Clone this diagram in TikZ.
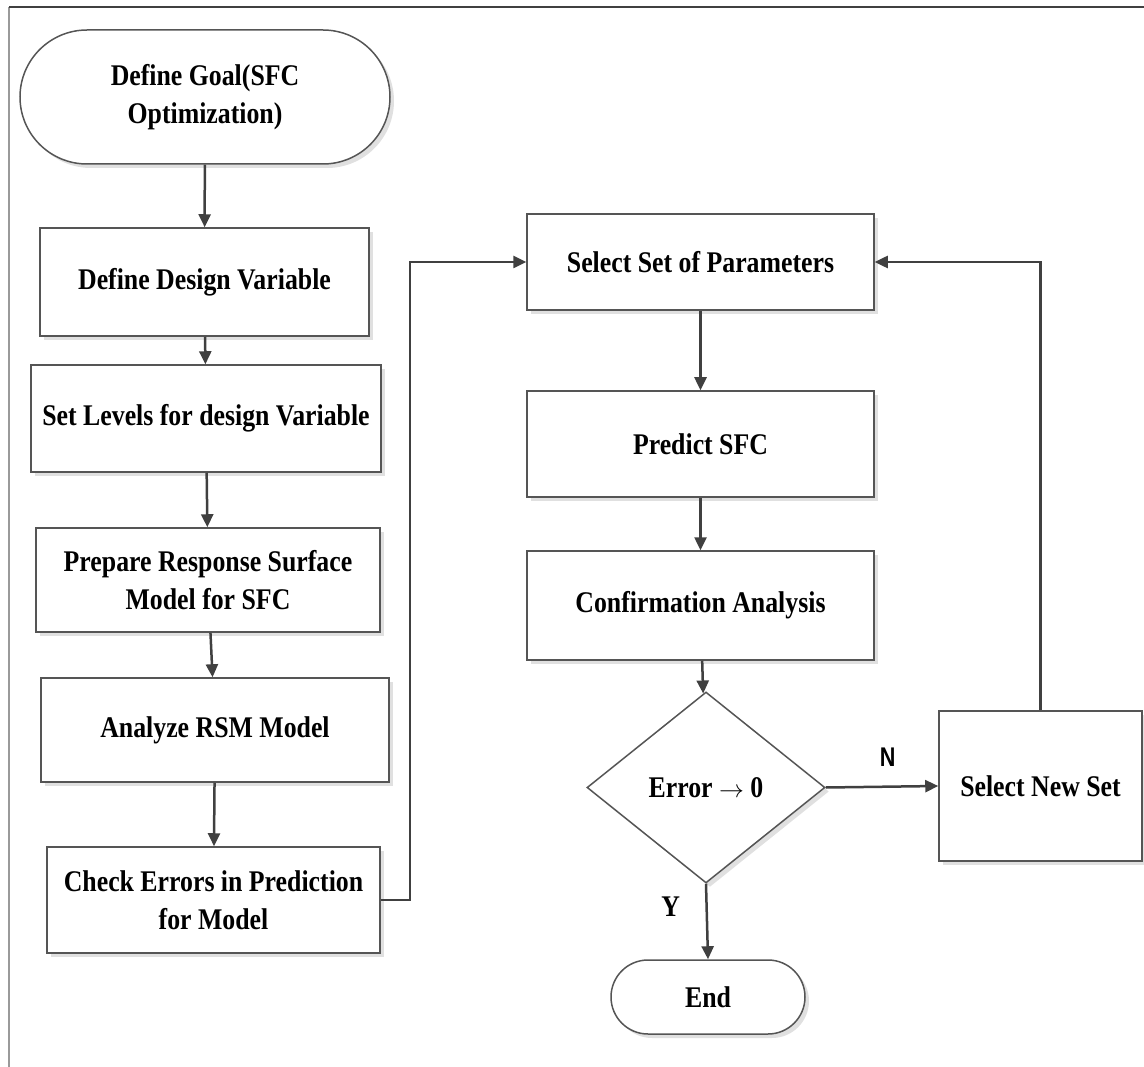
\documentclass[tikz,border=0pt]{standalone}
\usepackage{fontspec}
\setmainfont{Liberation Serif}[FakeStretch=0.86]
\newfontfamily\labelfont{Liberation Sans}[FakeStretch=0.8]
\usetikzlibrary{arrows.meta,shadows,shapes.geometric}
\definecolor{linegray}{HTML}{404040}
\definecolor{boxgray}{HTML}{555555}
\definecolor{framegray}{HTML}{9A9A9A}
\newcommand\boxfont{\bfseries\fontsize{30}{38}\selectfont}
\newcommand\toarrow{{\fontsize{24}{24}\selectfont$\rightarrow$}}

\begin{document}
\begin{tikzpicture}[x=1pt,y=-1pt,->,>={Triangle[length=13pt,width=12pt]},
  every edge/.style={draw=linegray,line width=2.5pt},
  flow/.style={draw=linegray,line width=2.5pt},
  box/.style={rectangle,draw=boxgray,line width=1.5pt,fill=white,inner sep=0pt,
    align=center,font=\boxfont,
    drop shadow={shadow xshift=4pt,shadow yshift=-4pt,fill=black!12,opacity=1}},
  term/.style={box,rounded corners=#1},
  dec/.style={box,diamond,aspect=1.25,minimum width=238pt,minimum height=191pt}]

\useasboundingbox (0,0) rectangle (1144,1067);
\draw[-,draw=framegray,line width=2pt] (9,1067) -- (9,7);
\draw[-,draw=linegray,line width=2pt] (9,7) -- (1144,7);

% left column
\node[term=67pt,minimum width=370pt,minimum height=134pt] (1) at (205,97) {Define Goal(SFC\\Optimization)};
\node[box,minimum width=329pt,minimum height=108pt] (2) at (204.5,282) {Define Design Variable};
\node[box,minimum width=350pt,minimum height=107pt] (3) at (206,418.5) {Set Levels for design Variable};
\node[box,minimum width=344pt,minimum height=104pt] (4) at (208,580) {Prepare Response Surface\\Model for SFC};
\node[box,minimum width=348pt,minimum height=104pt] (5) at (215,730) {Analyze RSM Model};
\node[box,minimum width=333pt,minimum height=106pt] (6) at (213.5,900) {Check Errors in Prediction\\for Model};

% right column
\node[box,minimum width=347pt,minimum height=96pt] (7) at (700.5,262) {Select Set of Parameters};
\node[box,minimum width=347pt,minimum height=106pt] (8) at (700.5,444) {Predict SFC};
\node[box,minimum width=347pt,minimum height=109pt] (9) at (700.5,605.5) {Confirmation Analysis};
\node[dec] (10) at (706,787.5) {Error \toarrow\ 0};
\node[box,minimum width=203pt,minimum height=150pt] (11) at (1040.5,786) {Select New Set};
\node[term=37pt,minimum width=194pt,minimum height=74pt] (12) at (708,997) {End};

\coordinate (j1) at (410,0);

\path (1) edge (2)
      (2) edge (3)
      (3) edge (4)
      (4) edge (5)
      (5) edge (6)
      (7) edge (8)
      (8) edge (9)
      (9) edge (10)
      (10.east) edge node[above=16pt,pos=0.55,font=\labelfont\bfseries\fontsize{27}{30}\selectfont] {N} (11.west)
      (10.south) edge node[left=22pt,pos=0.3,font=\boxfont] {Y} (12.north);

\draw[flow] (6.east) -- (6.east -| j1) |- (7.west);
\draw[flow] (11.north) |- (7.east);

\end{tikzpicture}
\end{document}
